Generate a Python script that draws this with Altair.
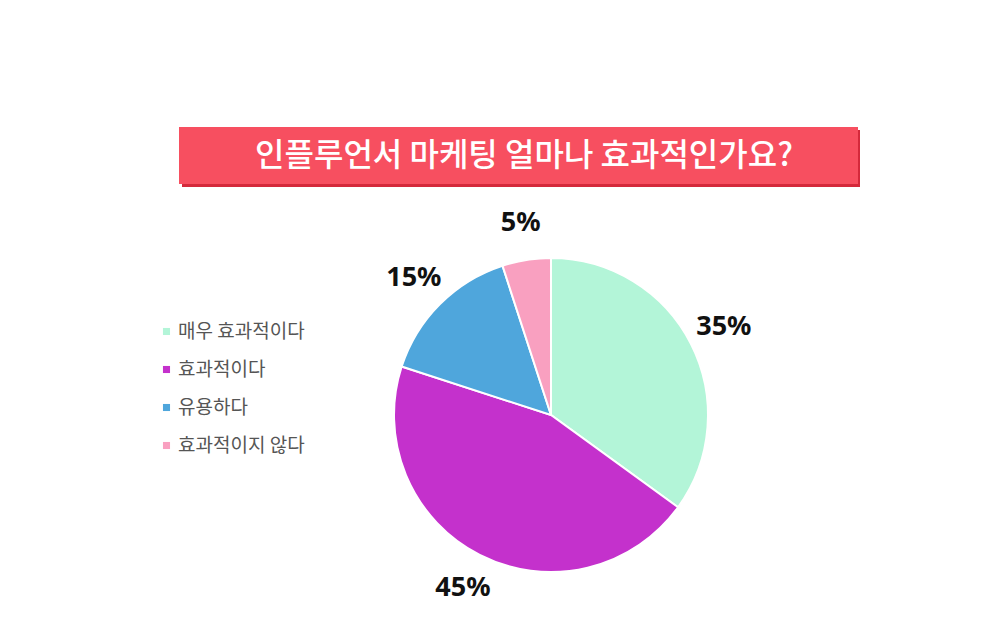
import altair as alt
import pandas as pd

categories = ["매우 효과적이다", "효과적이다", "유용하다", "효과적이지 않다"]
values = [35, 45, 15, 5]
colors = ["#b3f5d8", "#c431cc", "#4fa6dc", "#f9a0c0"]
title_text = "인플루언서 마케팅 얼마나 효과적인가요?"

df = pd.DataFrame({
    "category": categories,
    "value": values,
    "order": list(range(len(categories))),
    "label": [f"{v}%" for v in values],
})

CX, CY = 543, 407

color = alt.Color(
    "category:N",
    scale=alt.Scale(domain=categories, range=colors),
    sort=categories,
    legend=alt.Legend(
        title=None,
        orient="none",
        legendX=149,
        legendY=314,
        symbolType="square",
        symbolSize=50,
        symbolStrokeWidth=0,
        labelFont="Noto Sans CJK KR",
        labelFontSize=19,
        labelColor="#555555",
        rowPadding=18,
        labelOffset=2,
    ),
)

base = alt.Chart(df)

pie = base.mark_arc(outerRadius=157, stroke="white", strokeWidth=2).encode(
    theta=alt.Theta("value:Q", stack=True),
    color=color,
    order=alt.Order("order:Q"),
    x=alt.value(CX),
    y=alt.value(CY),
)

labels = base.mark_text(
    radius=194, font="Noto Sans", fontSize=27, fontWeight="bold", color="#111111"
).encode(
    theta=alt.Theta("value:Q", stack=True),
    order=alt.Order("order:Q"),
    text="label:N",
    x=alt.value(CX),
    y=alt.value(CY),
)

one = alt.Data(values=[{"t": title_text}])

shadow = alt.Chart(one).mark_rect(color="#d4293b").encode(
    x=alt.value(174), x2=alt.value(852), y=alt.value(122), y2=alt.value(179)
)
banner = alt.Chart(one).mark_rect(color="#f74f60").encode(
    x=alt.value(171), x2=alt.value(850), y=alt.value(119), y2=alt.value(176)
)
title = alt.Chart(one).mark_text(
    font="Noto Sans CJK KR", fontSize=32, fontWeight=500, color="white",
    align="center", baseline="middle"
).encode(x=alt.value(516), y=alt.value(148), text="t:N")

chart = alt.layer(shadow, banner, title, pie, labels).properties(
    width=978, height=619, autosize=alt.AutoSizeParams(type="none"), padding=0
).configure_view(stroke=None)

chart.save("out.html", embed_options={"renderer": "svg", "actions": False})
